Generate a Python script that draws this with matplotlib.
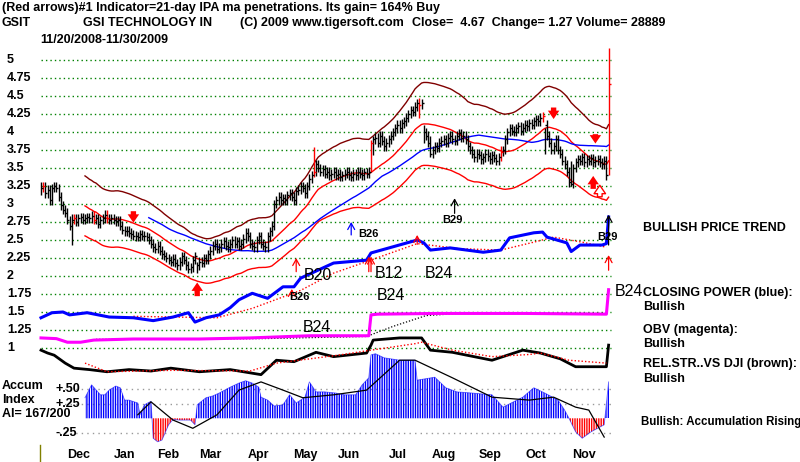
import numpy as np
import pandas as pd
import matplotlib
matplotlib.use("Agg")
import matplotlib.pyplot as plt

plt.rcParams['font.family'] = ['Liberation Sans', 'DejaVu Sans']
plt.rcParams['hatch.linewidth'] = 1.0

# ---------------- data ----------------
closes_nov08 = [3.22, 3.25, 3.15, 3.20, 3.05, 3.22, 3.25]
closes_dec = [3.22, 3.10, 2.98, 2.92, 2.88, 2.78, 2.70, 2.78, 2.80, 2.75, 2.80, 2.82, 2.78, 2.80,
              2.82, 2.80, 2.84, 2.78, 2.80, 2.72, 2.78]
closes_jan = [2.80, 2.85, 2.80, 2.78, 2.80, 2.78, 2.76, 2.78, 2.70, 2.64, 2.62, 2.63, 2.60, 2.58,
              2.56, 2.55, 2.54, 2.58, 2.56, 2.55]
closes_feb = [2.54, 2.50, 2.45, 2.40, 2.38, 2.42, 2.35, 2.30, 2.28, 2.25, 2.22, 2.20, 2.24, 2.18,
              2.15, 2.20, 2.28, 2.22, 2.15]
closes_mar = [2.10, 2.12, 2.22, 2.28, 2.15, 2.20, 2.18, 2.25, 2.22, 2.30, 2.35, 2.42, 2.45, 2.38,
              2.40, 2.45, 2.48, 2.42, 2.40, 2.45, 2.50, 2.45]
closes_apr = [2.48, 2.42, 2.45, 2.52, 2.60, 2.55, 2.45, 2.42, 2.40, 2.50, 2.55, 2.45, 2.42, 2.40,
              2.55, 2.62, 2.70, 3.00, 3.05, 3.10, 3.05]
closes_may = [3.08, 3.05, 3.12, 3.15, 3.10, 3.05, 3.18, 3.20, 3.25, 3.22, 3.15, 3.25, 3.35, 3.40,
              3.45, 3.55, 3.50, 3.45, 3.48, 3.42]
closes_jun = [3.45, 3.40, 3.42, 3.45, 3.40, 3.42, 3.38, 3.40, 3.42, 3.45, 3.40, 3.38, 3.42, 3.40,
              3.45, 3.42, 3.40, 3.44, 3.42, 3.45, 3.85, 3.90]
closes_jul = [3.92, 3.85, 3.95, 3.88, 3.80, 3.85, 3.90, 3.95, 4.00, 4.05, 4.10, 4.05, 4.12, 4.15,
              4.20, 4.25, 4.30, 4.28, 4.35, 4.40, 4.38]
closes_aug = [4.40, 4.00, 3.95, 3.85, 3.70, 3.75, 3.80, 3.78, 3.85, 3.88, 3.90, 3.85, 3.92, 3.95,
              3.90, 3.88, 3.95, 3.98, 3.92, 3.95, 3.90]
closes_sep = [3.80, 3.75, 3.70, 3.65, 3.70, 3.68, 3.62, 3.65, 3.70, 3.66, 3.62, 3.68, 3.64, 3.60,
              3.65, 3.72, 3.75, 3.90, 4.00, 4.05, 4.02]
closes_oct = [4.00, 4.05, 4.08, 4.02, 4.06, 4.10, 4.08, 4.12, 4.10, 4.15, 4.18, 4.15, 4.20, 4.22,
              4.10, 3.95, 3.85, 3.75, 3.80, 3.90, 3.75, 3.70]
closes_nov09 = [3.60, 3.55, 3.45, 3.30, 3.28, 3.50, 3.58, 3.62, 3.60, 3.65, 3.58, 3.62, 3.60, 3.64,
                3.58, 3.60, 3.62, 3.58, 3.55, 3.60, 3.40, 4.67]

# explicit bar extremes (day index -> (low, high)) for long bars
bar_spikes = {0: (3.12, 3.30), 14: (2.43, 2.86), 71: (2.04, 2.20), 124: (3.38, 3.79),
              150: (3.45, 3.89), 151: (3.68, 3.95), 172: (4.20, 4.47), 174: (3.85, 4.10),
              177: (3.65, 3.95), 209: (3.60, 3.80), 229: (3.70, 4.05), 241: (3.25, 3.60),
              258: (3.40, 5.17)}
red_bars = [1, 15, 24, 30, 124, 150, 172, 209, 228, 258]

month_labels = ["Dec", "Jan", "Feb", "Mar", "Apr", "May", "Jun", "Jul", "Aug", "Sep", "Oct", "Nov"]
price_ticks = [5, 4.75, 4.5, 4.25, 4, 3.75, 3.5, 3.25, 3, 2.75, 2.5, 2.25, 2, 1.75, 1.5, 1.25, 1]
price_tick_labels = ["5", "4.75", "4.5", "4.25", "4", "3.75", "3.5", "3.25", "3", "2.75", "2.5",
                     "2.25", "2", "1.75", "1.5", "1.25", "1"]

# Closing Power (blue), plotted on price scale
cp_day = [0, 5, 10, 13, 21, 31, 42, 51, 60, 67, 70, 75, 81, 86, 90, 96, 103, 110, 115, 118, 133,
          148, 150, 171, 174, 177, 186, 201, 209, 213, 224, 228, 230, 239, 241, 245, 255, 257, 258]
cp_val = [1.42, 1.49, 1.50, 1.46, 1.49, 1.43, 1.42, 1.38, 1.43, 1.49, 1.36, 1.42, 1.46, 1.56, 1.67,
          1.76, 1.69, 1.85, 1.85, 1.97, 2.18, 2.22, 2.32, 2.50, 2.46, 2.36, 2.39, 2.33, 2.36, 2.53,
          2.60, 2.61, 2.54, 2.46, 2.34, 2.43, 2.43, 2.45, 2.82]
cp_ma_day = [42, 80, 96, 118, 133, 148, 171, 190, 209, 224, 233, 246, 257]
cp_ma_val = [1.44, 1.42, 1.55, 1.80, 2.04, 2.20, 2.45, 2.38, 2.36, 2.47, 2.54, 2.47, 2.40]

# OBV (magenta)
obv_day = [0, 7, 12, 18, 24, 42, 72, 95, 122, 149, 150, 153, 180, 220, 257, 258]
obv_val = [1.14, 1.13, 1.08, 1.08, 1.11, 1.125, 1.125, 1.14, 1.17, 1.17, 1.46, 1.47, 1.48, 1.48,
           1.47, 1.81]
obv_ma_day = [25, 100, 148, 160, 175, 190, 257]
obv_ma_val = [1.12, 1.13, 1.16, 1.30, 1.45, 1.48, 1.48]

# Relative strength vs DJI (black)
rs_day = [0, 3, 6, 11, 15, 22, 30, 40, 50, 59, 72, 86, 100, 107, 115, 125, 133, 148, 150, 151,
          163, 173, 177, 187, 205, 219, 227, 236, 243, 257, 258]
rs_val = [0.97, 0.93, 0.90, 0.79, 0.72, 0.70, 0.67, 0.70, 0.68, 0.72, 0.67, 0.70, 0.63, 0.83, 0.81,
          0.94, 0.88, 0.93, 1.04, 1.11, 1.14, 1.14, 0.97, 0.94, 0.83, 0.97, 0.93, 0.85, 0.74, 0.74,
          1.04]
rs_ma_day = [20, 30, 60, 95, 107, 135, 150, 170, 173, 187, 205, 222, 227, 240, 257]
rs_ma_val = [0.79, 0.67, 0.69, 0.68, 0.79, 0.90, 0.97, 1.06, 1.08, 0.97, 0.88, 0.91, 0.93, 0.83, 0.79]

# Accumulation index
ai_day = [20, 23, 27, 29, 31, 34, 36, 38, 40, 44, 45, 47, 50, 51, 53, 55, 58, 60, 63, 68, 70, 71,
          75, 78, 81, 86, 90, 93, 96, 99, 100, 103, 106, 110, 113, 116, 118, 120, 122, 125, 129,
          134, 138, 143, 146, 149, 150, 152, 156, 163, 170, 171, 179, 184, 189, 196, 205, 210, 219,
          224, 229, 235, 238, 240, 243, 246, 250, 253, 256, 258]
ai_val = [0.35, 0.57, 0.40, 0.40, 0.48, 0.55, 0.52, 0.31, 0.31, 0.26, 0.06, 0.23, 0.29, -0.34,
          -0.40, -0.37, -0.11, -0.02, -0.03, -0.03, -0.11, 0.23, 0.35, 0.38, 0.43, 0.53, 0.60, 0.64,
          0.60, 0.53, 0.36, 0.31, 0.21, 0.23, 0.40, 0.26, 0.31, 0.36, 0.62, 0.45, 0.45, 0.43, 0.40,
          0.40, 0.57, 0.69, 1.08, 1.10, 1.03, 0.99, 0.99, 0.65, 0.70, 0.52, 0.45, 0.43, 0.40, 0.19,
          0.36, 0.52, 0.43, 0.31, 0.14, 0.00, -0.23, -0.34, -0.23, -0.17, -0.11, 0.62]
ai_ma_day = [44, 50, 60, 69, 80, 90, 100, 110, 119, 133, 148, 163, 170, 187, 205, 222, 233, 243,
             249, 256]
ai_ma_val = [0.06, 0.28, -0.03, -0.17, 0.06, 0.48, 0.62, 0.48, 0.35, 0.40, 0.48, 0.99, 0.99, 0.69,
             0.36, 0.31, 0.36, 0.19, 0.14, -0.32]

# signal arrows: (day, tail price, head price)
sell_arrows = [(42, 2.90, 2.74), (233, 4.34, 4.18), (252, 3.97, 3.84)]
buy_arrows = [(71, 1.72, 1.91), (251, 3.21, 3.39)]
hollow_arrows = [(254, 3.10, 3.26)]
thin_arrows = [(141, 2.57, 2.75, 'blue'), (188, 2.87, 3.08, 'black'), (258, 2.43, 2.85, 'black'),
               (116, 2.06, 2.25, 'red'), (149, 2.06, 2.27, 'red'), (150, 2.06, 2.27, 'red'),
               (171, 2.44, 2.57, 'red'), (258, 2.08, 2.29, 'red'), (114, 1.70, 1.82, 'red')]

# ---------------- build ----------------
closes = np.array(closes_nov08 + closes_dec + closes_jan + closes_feb + closes_mar + closes_apr +
                  closes_may + closes_jun + closes_jul + closes_aug + closes_sep + closes_oct +
                  closes_nov09)
n = len(closes)
days = np.arange(n)
opens = np.concatenate([[closes[0]], closes[:-1]])
pad = 0.06
lows = np.minimum(opens, closes) - pad
highs = np.maximum(opens, closes) + pad
for d, (lo, hi) in bar_spikes.items():
    lows[d], highs[d] = lo, hi

month_lengths = [len(m) for m in [closes_dec, closes_jan, closes_feb, closes_mar, closes_apr,
                                  closes_may, closes_jun, closes_jul, closes_aug, closes_sep,
                                  closes_oct, closes_nov09]]
month_starts = np.cumsum([len(closes_nov08)] + month_lengths[:-1])

s = pd.Series(closes)
ma21 = s.rolling(21).mean()
ma50 = s.rolling(50).mean()

W, H = 800, 462
fig = plt.figure(figsize=(8, 4.62), dpi=100)
fig.patch.set_facecolor('white')

PX0, PXD = 41.0, 2.2          # pixel x of day 0 and pixels per day
PY5, PYU = 60.0, 72.0         # pixel y of price 5 and pixels per price unit
ax = fig.add_axes([0, 0, 1, 1])
ax.set_xlim(-PX0 / PXD, (W - PX0) / PXD)
ax.set_ylim(5 - (H - PY5) / PYU, 5 + PY5 / PYU)
ax.axis('off')

AZ, AU = 418.3, 58.7          # accumulation panel: pixel y of zero, pixels per unit
ax2 = fig.add_axes([0, 0, 1, 1])
ax2.set_xlim(ax.get_xlim())
ax2.set_ylim(-(H - AZ) / AU, AZ / AU)
ax2.axis('off')
ax2.patch.set_alpha(0)

FS = 9.0
gx0, gx1 = 0, n - 1
# green dotted price grid
for p in price_ticks:
    ax.plot([gx0, gx1 + 1], [p, p], color='#008000', lw=1.0, ls=(0, (1, 2.2)), zorder=1)
for p, lab in zip(price_ticks, price_tick_labels):
    ax.text(-PX0 / PXD + 7 / PXD, p, lab, fontsize=FS, fontweight='bold', va='center', ha='left')

# accumulation grid + labels
for v, lab in [(0.5, "+.50"), (0.25, "+.25"), (-0.25, "-.25")]:
    ax2.plot([gx0 + 8, gx1 + 1], [v, v], color='#999999', lw=1.0, ls=(0, (1, 3)), zorder=1)
    ax2.text(-PX0 / PXD + 55 / PXD, v, lab, fontsize=FS, fontweight='bold', va='center', ha='left')

# bands
ax.plot(days, ma21 * 1.14, color='#800000', lw=1.0, zorder=2)
ax.plot(days, ma21, color='#ff0000', lw=1.0, zorder=2)
ax.plot(days, ma21 * 0.86, color='#ff0000', lw=1.0, zorder=2)
ax.plot(days, ma50, color='#0000ff', lw=1.0, zorder=2)

# price bars
cols = ['red' if d in red_bars else 'black' for d in days]
ax.vlines(days, lows, highs, colors=cols, lw=1.0, zorder=3)
ax.hlines(closes, days, days + 0.9, colors=cols, lw=1.0, zorder=3)

# indicator lines
ax.plot(cp_ma_day, cp_ma_val, color='red', lw=1.0, ls=(0, (1, 1.5)), zorder=3)
ax.plot(cp_day, cp_val, color='#0000ff', lw=2.2, zorder=4)
ax.plot(obv_ma_day, obv_ma_val, color='black', lw=0.9, ls=(0, (1, 1.5)), zorder=3)
ax.plot(obv_day, obv_val, color='#ff00ff', lw=2.2, zorder=4)
ax.plot(rs_day, rs_val, color='black', lw=2.0, zorder=4)
ax.plot(rs_ma_day, rs_ma_val, color='red', lw=1.0, ls=(0, (1, 1.5)), zorder=5)

# accumulation index
ai_d = np.array(ai_day, dtype=float)
ai_v = np.array(ai_val)
ax2.fill_between(ai_d, 0, ai_v, where=ai_v >= 0, interpolate=True, facecolor='none',
                 edgecolor='#0000ff', hatch='|||||||', lw=0, zorder=2)
ax2.fill_between(ai_d, 0, ai_v, where=ai_v <= 0, interpolate=True, facecolor='none',
                 edgecolor='#ff0000', hatch='|||||||', lw=0, zorder=2)
ax2.plot(ai_d, ai_v, color='#0000ff', lw=0.6, zorder=3, alpha=0.6)
ax2.plot(ai_ma_day, ai_ma_val, color='black', lw=0.9, zorder=4)

# signal arrows
for d, t, h in sell_arrows + buy_arrows:
    ax.annotate('', xy=(d, h), xytext=(d, t),
                arrowprops=dict(arrowstyle='simple,head_width=0.75,head_length=0.55,tail_width=0.35',
                                color='red', lw=0, shrinkA=0, shrinkB=0, mutation_scale=11),
                zorder=6)
for d, t, h in hollow_arrows:
    ax.annotate('', xy=(d, h), xytext=(d, t),
                arrowprops=dict(arrowstyle='simple,head_width=0.75,head_length=0.55,tail_width=0.3',
                                fc='white', ec='red', lw=1.0, shrinkA=0, shrinkB=0,
                                mutation_scale=11), zorder=6)
for d, t, h, c in thin_arrows:
    ax.annotate('', xy=(d, h), xytext=(d, t),
                arrowprops=dict(arrowstyle='->,head_width=0.25,head_length=0.45', color=c, lw=0.9,
                                shrinkA=0, shrinkB=0), zorder=6)

# month labels
for ms, lab in zip(month_starts, month_labels):
    ax.text(ms + 10, 5 - (455 - PY5) / PYU, lab, fontsize=FS, fontweight='bold',
            ha='center', va='center')


def ptext(x, y, s, **kw):
    fig.text(x / W, 1 - y / H, s, **kw)


bold = dict(fontsize=FS, fontweight='bold', va='center', ha='left')
ptext(2, 8, "(Red arrows)#1 Indicator=21-day IPA ma penetrations. Its gain= 164% Buy", **bold)
ptext(2, 23, "GSIT", **bold)
ptext(83, 23, "GSI TECHNOLOGY IN", **bold)
ptext(240, 23, "(C) 2009 www.tigersoft.com", **bold)
ptext(412, 23, "Close=  4.67  Change= 1.27 Volume= 28889", **bold)
ptext(40, 40, "11/20/2008-11/30/2009", **bold)

ptext(643, 228, "BULLISH PRICE TREND", **bold)
ptext(643, 293, "CLOSING POWER (blue):", **bold)
ptext(643, 307, "Bullish", **bold)
ptext(643, 330, "OBV (magenta):", **bold)
ptext(643, 344, "Bullish", **bold)
ptext(643, 364, "REL.STR..VS DJI (brown):", **bold)
ptext(643, 379, "Bullish", **bold)
ptext(641, 422, "Bullish: Accumulation Rising", fontsize=8.3, fontweight='bold',
      va='center', ha='left')

ptext(2, 386, "Accum", **bold)
ptext(2, 400, "Index", **bold)
ptext(2, 414, "AI= 167/200", **bold)

big = dict(fontsize=11.5, va='center', ha='left')
ptext(304, 276, "B20", **big)
ptext(375, 273, "B12", **big)
ptext(425, 273, "B24", **big)
ptext(377, 296, "B24", **big)
ptext(303, 327, "B24", **big)
ptext(615, 292, "B24", **big)

small = dict(fontsize=8, fontweight='bold', va='center', ha='left')
ptext(289, 297, "B26", **small)
ptext(358, 234, "B26", **small)
ptext(442, 220, "B29", **small)
ptext(597, 237, "B29", **small)

# x-axis start marker
fig.add_artist(plt.Line2D([40 / W, 40 / W], [0, 1 - 445 / H], color='#808000', lw=1.0))

fig.savefig("out.png", dpi=100, facecolor='white')
